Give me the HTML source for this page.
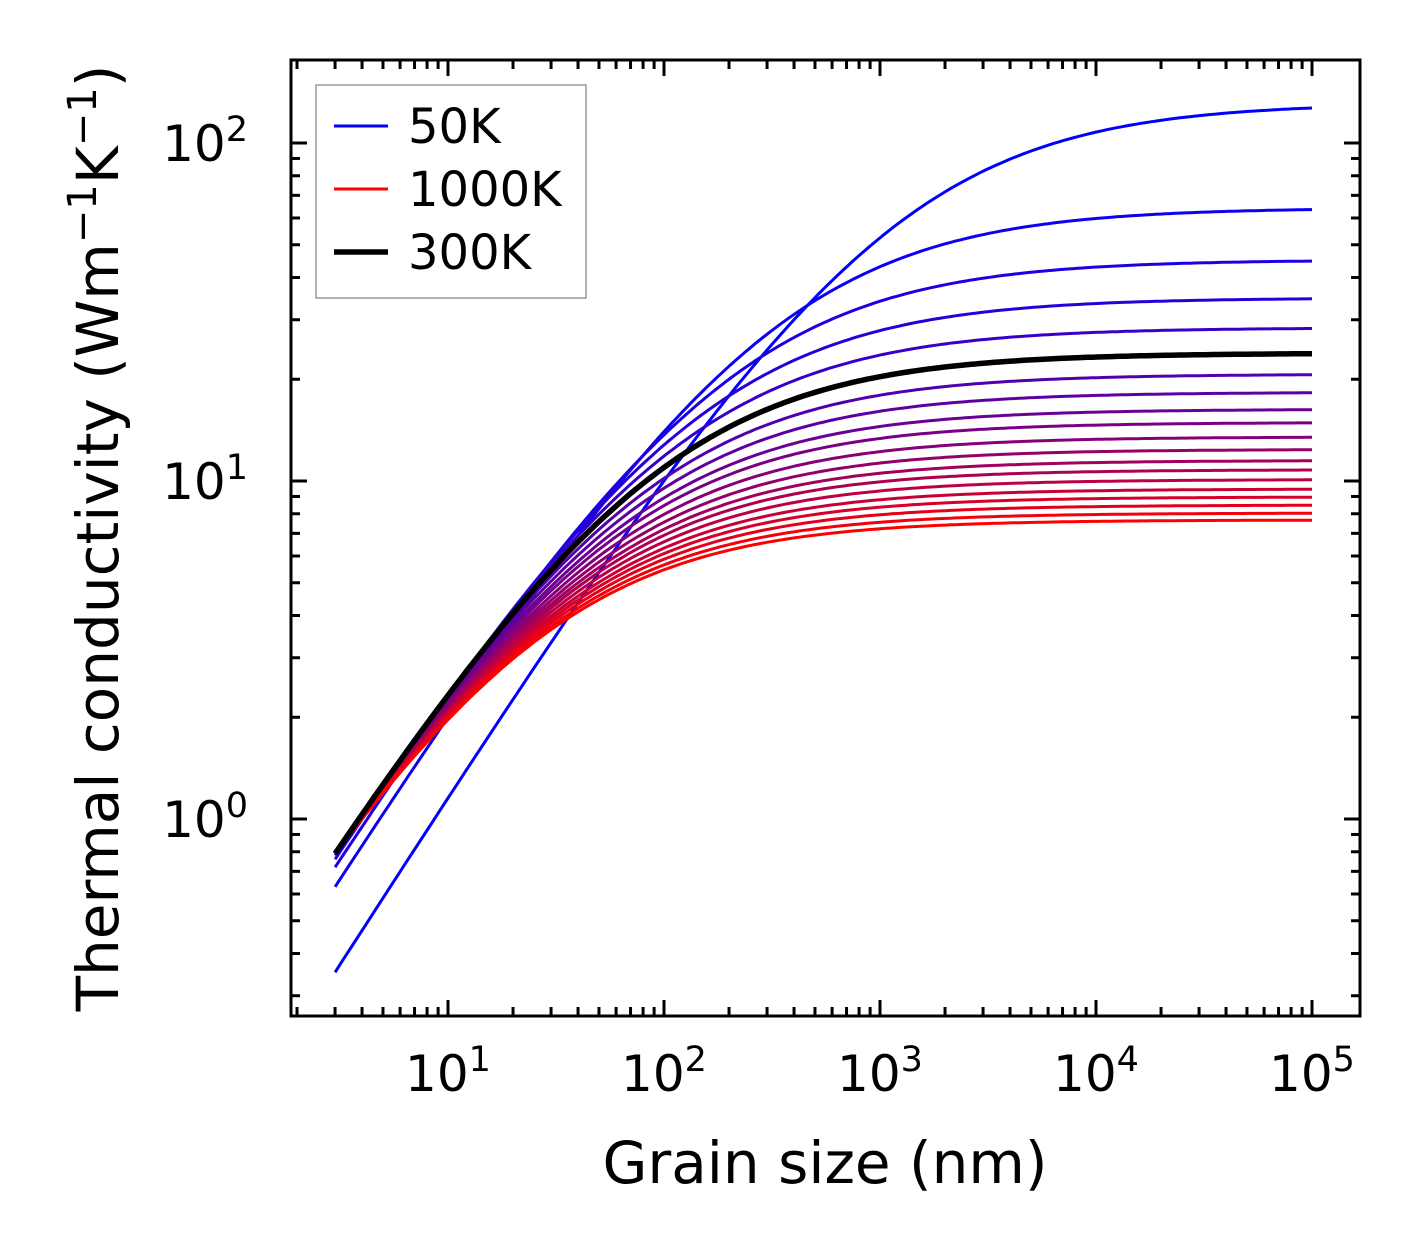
<!DOCTYPE html>
<html><head><meta charset="utf-8">
<style>
html,body{margin:0;padding:0;background:#fff;}
svg{display:block;font-family:"DejaVu Sans","Liberation Sans",sans-serif;}
</style></head>
<body>
<svg id="chart" width="1421" height="1254" viewBox="0 0 1421 1254" xmlns="http://www.w3.org/2000/svg">
<rect x="0" y="0" width="1421" height="1254" fill="#fff"/>
<g id="curves"></g>
<g id="ticks"></g>
<rect x="291" y="60" width="1069" height="956" fill="none" stroke="#000" stroke-width="3"/>
<g id="labels" font-size="50" fill="#000"></g>
<text x="825" y="1183" font-size="58" text-anchor="middle">Grain size (nm)</text>
<text transform="translate(118,538) rotate(-90)" font-size="58" text-anchor="middle">Thermal conductivity (Wm<tspan dy="-22" font-size="40">−1</tspan><tspan dy="22">K</tspan><tspan dy="-22" font-size="40">−1</tspan><tspan dy="22">)</tspan></text>
<g>
  <rect x="316" y="85" width="270" height="213" fill="#fff" stroke="#999" stroke-width="1.5"/>
  <line x1="334" y1="126" x2="388" y2="126" stroke="#0000ff" stroke-width="3"/>
  <text x="408" y="143" font-size="48">50K</text>
  <line x1="334" y1="189" x2="388" y2="189" stroke="#ff0000" stroke-width="3"/>
  <text x="408" y="206" font-size="48">1000K</text>
  <line x1="334" y1="252" x2="388" y2="252" stroke="#000" stroke-width="5.5"/>
  <text x="408" y="269" font-size="48">300K</text>
</g>
</svg>
<script>
// ---- data ----
const temps = [50,100,150,200,250,300,350,400,450,500,550,600,650,700,750,800,850,900,950,1000];
const kBulk = [131.3,64.3,45.1,34.8,28.4,23.9,20.7,18.3,16.3,14.9,13.5,12.4,11.5,10.8,10.1,9.47,8.97,8.49,8.04,7.67];
const kAt3nm = [0.352,0.63,0.72,0.76,0.78,0.79,0.79,0.79,0.79,0.79,0.79,0.79,0.79,0.79,0.79,0.79,0.79,0.79,0.79,0.79];
const grainRange = [3,100000];
const xTickLabels = ["1","2","3","4","5"];
const yTickLabels = ["0","1","2"];
// ---- axes ----
const X0=291,X1=1360,Y0=60,Y1=1016;
const xLogMin=1-(448-291)/216, xLogMax=5+(1360-1312)/216;
const yLogMin=-(1016-819)/338, yLogMax=2+(143-60)/338;
const sx=v=>X0+(Math.log10(v)-xLogMin)/(xLogMax-xLogMin)*(X1-X0);
const sy=v=>Y1-(Math.log10(v)-yLogMin)/(yLogMax-yLogMin)*(Y1-Y0);
const NS="http://www.w3.org/2000/svg";
function mk(tag,attrs,parent){const e=document.createElementNS(NS,tag);for(const k in attrs)e.setAttribute(k,attrs[k]);parent.appendChild(e);return e;}
const P=0.8;
function model(i,L){
  const kb=kBulk[i],k3=kAt3nm[i];
  const lam=grainRange[0]*Math.pow(Math.pow(kb/k3,P)-1,1/P);
  return kb/Math.pow(1+Math.pow(lam/L,P),1/P);
}
const cg=document.getElementById('curves');
const order=[];for(let i=0;i<temps.length;i++)if(temps[i]!==300)order.push(i);
order.push(temps.indexOf(300));
order.forEach(i=>{
  const n=temps.length-1;const f=i/n;
  const col=temps[i]===300?'#000':`rgb(${Math.round(255*f)},0,${Math.round(255*(1-f))})`;
  let d='';const N=200;
  const a=Math.log10(grainRange[0]),b=Math.log10(grainRange[1]);
  for(let j=0;j<=N;j++){const L=Math.pow(10,a+(b-a)*j/N);d+=(j?'L':'M')+sx(L).toFixed(1)+','+sy(model(i,L)).toFixed(1);}
  const p=mk('path',{d:d,fill:'none',stroke:col,'stroke-width':temps[i]===300?5.5:3,'stroke-linejoin':'round'},cg);
  
  
});
// ticks
const tg=document.getElementById('ticks');
function tickX(v,len){const x=sx(v);if(x<X0||x>X1)return;
  mk('line',{x1:x,y1:Y1,x2:x,y2:Y1-len,stroke:'#000','stroke-width':3},tg);
  mk('line',{x1:x,y1:Y0,x2:x,y2:Y0+len,stroke:'#000','stroke-width':3},tg);}
function tickY(v,len){const y=sy(v);if(y<Y0||y>Y1)return;
  mk('line',{x1:X0,y1:y,x2:X0+len,y2:y,stroke:'#000','stroke-width':3},tg);
  mk('line',{x1:X1,y1:y,x2:X1-len,y2:y,stroke:'#000','stroke-width':3},tg);}
for(let e=0;e<=5;e++)for(let m=1;m<=9;m++)tickX(m*Math.pow(10,e),m===1?16:9);
for(let e=-1;e<=2;e++)for(let m=1;m<=9;m++)tickY(m*Math.pow(10,e),m===1?16:9);
const lg=document.getElementById('labels');
xTickLabels.forEach(s=>{const x=sx(Math.pow(10,+s));
  const t=mk('text',{x:x,y:1091,'text-anchor':'middle'},lg);
  
  
  t.innerHTML='10<tspan dy="-20" font-size="35">'+s+'</tspan>';});
yTickLabels.forEach(s=>{const y=sy(Math.pow(10,+s));
  const t=mk('text',{x:248,y:y+18,'text-anchor':'end'},lg);
  
  
  t.innerHTML='10<tspan dy="-20" font-size="35">'+s+'</tspan>';});
</script>
</body></html>
